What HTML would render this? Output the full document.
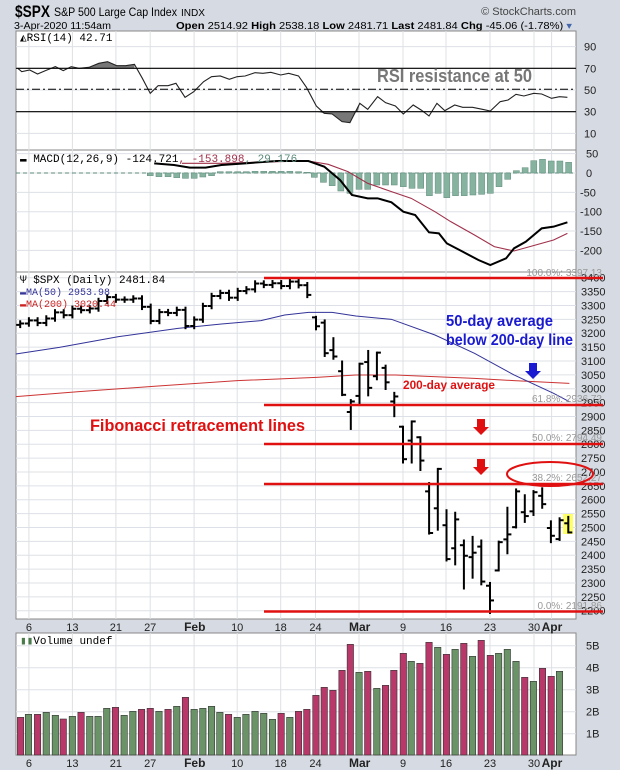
<!DOCTYPE html>
<html><head><meta charset="utf-8"><style>
body{margin:0;background:#d6dae2;}
svg{display:block;font-family:"Liberation Sans",sans-serif;}
</style></head><body>
<svg id="s" width="620" height="770" xmlns="http://www.w3.org/2000/svg">
<rect x="0" y="0" width="620" height="770" fill="#d6dae2"/>
<!-- header -->
<text x="15" y="17" font-size="17" font-weight="bold" fill="#000" textLength="35" lengthAdjust="spacingAndGlyphs">$SPX</text>
<text x="54" y="16" font-size="12" fill="#000" textLength="123" lengthAdjust="spacingAndGlyphs">S&amp;P 500 Large Cap Index</text>
<text x="181" y="16" font-size="10" fill="#000" textLength="24" lengthAdjust="spacingAndGlyphs">INDX</text>
<text x="576" y="15" font-size="11" fill="#444" text-anchor="end">© StockCharts.com</text>
<text x="14" y="29" font-size="10" fill="#000" textLength="97" lengthAdjust="spacingAndGlyphs">3-Apr-2020 11:54am</text>
<text x="176" y="29" font-size="10" fill="#000" textLength="396" lengthAdjust="spacingAndGlyphs"><tspan font-weight="bold">Open</tspan> 2514.92 <tspan font-weight="bold">High</tspan> 2538.18 <tspan font-weight="bold">Low</tspan> 2481.71 <tspan font-weight="bold">Last</tspan> 2481.84 <tspan font-weight="bold">Chg</tspan> -45.06 (-1.78%) <tspan fill="#4466aa">▾</tspan></text>
<!-- panels -->
<rect x="16" y="31" width="560" height="119" fill="#fff" stroke="#888"/>
<rect x="16" y="150" width="560" height="123" fill="#fff" stroke="#888"/>
<rect x="16" y="272" width="560" height="347" fill="#fff" stroke="#888"/>
<rect x="16" y="633" width="560" height="122" fill="#fff" stroke="#888"/>
<g id="grid"></g>
<g id="ticks" font-size="11" fill="#222"></g>

<!-- RSI -->
<g transform="scale(0.3954,0.3333)">
<polygon points="45,205 55,205 340,205 340,193 318,197 295,197 272,185 250,190 225,202 200,205" fill="#777"/>
<polygon points="800,335 820,340 840,342 865,365 885,368 910,310 905,335" fill="#777"/>
<polyline fill="none" stroke="#222" stroke-width="1.1" vector-effect="non-scaling-stroke" points="45,205 55,215 75,210 95,222 115,212 140,200 160,212 180,200 200,205 225,202 250,190 272,185 295,197 318,197 340,193 360,235 380,280 400,257 425,257 445,250 468,292 490,275 515,245 535,230 557,228 580,238 600,230 620,228 645,218 665,220 685,217 710,225 730,220 755,228 775,262 800,318 820,340 840,342 865,365 885,368 910,310 930,328 955,290 975,308 1000,318 1020,342 1045,315 1065,330 1085,348 1105,310 1125,332 1150,315 1170,322 1195,322 1220,328 1240,333 1265,305 1285,300 1305,283 1325,288 1350,280 1370,282 1395,295 1415,290 1435,292"/>
</g>
<line x1="16" x2="576" y1="68.3" y2="68.3" stroke="#000" stroke-width="1.2"/>
<line x1="16" x2="576" y1="111.7" y2="111.7" stroke="#000" stroke-width="1.2"/>
<line x1="16" x2="576" y1="89.3" y2="89.3" stroke="#000" stroke-width="1" stroke-dasharray="8,3,2,3"/>
<text x="377" y="82" font-size="18" font-weight="bold" fill="#777" textLength="155" lengthAdjust="spacingAndGlyphs">RSI resistance at 50</text>
<text x="20" y="41" font-size="11" fill="#000" font-family="Liberation Mono,monospace">◭RSI(14) 42.71</text>

<!-- MACD -->
<line x1="16" x2="576" y1="173" y2="173" stroke="#5a8a7a" stroke-dasharray="4,3"/>
<g id="hist"></g>
<g transform="translate(0,145) scale(0.3954,0.3333)">
<polyline fill="none" stroke="#a0304a" stroke-width="1.1" vector-effect="non-scaling-stroke" points="460,55 560,55 700,50 780,48 830,58 880,80 930,115 990,140 1040,160 1100,200 1140,230 1200,270 1250,305 1300,318 1340,305 1400,285 1435,265"/>
<polyline fill="none" stroke="#000" stroke-width="2" vector-effect="non-scaling-stroke" points="390,55 440,60 480,68 520,68 560,60 620,55 700,48 780,48 820,65 860,105 890,150 930,160 955,160 990,172 1020,200 1050,210 1085,262 1110,265 1130,295 1170,320 1210,345 1240,360 1280,340 1300,310 1330,290 1370,250 1400,245 1435,232"/>
</g>
<text x="20" y="162" font-size="11" font-family="Liberation Mono,monospace"><tspan fill="#000">▬ MACD(12,26,9) -124.721</tspan><tspan fill="#a0304a">, -153.898</tspan><tspan fill="#5a8a7a">, 29.176</tspan></text>

<!-- Price -->
<g transform="translate(0,260) scale(0.3954,0.3333)">
<polyline fill="none" stroke="#cc3333" stroke-width="1" vector-effect="non-scaling-stroke" points="40,410 200,395 400,378 600,362 800,352 900,345 1000,345 1200,355 1300,362 1440,370"/>
<polyline fill="none" stroke="#333399" stroke-width="1" vector-effect="non-scaling-stroke" points="40,282 150,262 300,230 450,205 560,192 660,182 720,165 780,157 840,157 900,168 990,178 1100,225 1200,280 1300,345 1400,400 1440,425"/>
</g>
<rect x="563" y="514" width="10" height="20" fill="#ffff66"/>
<g id="bars" stroke="#000" stroke-width="2"></g>
<g stroke="#e01010" stroke-width="2.5">
<line x1="264" x2="603" y1="278" y2="278"/>
<line x1="264" x2="603" y1="405" y2="405"/>
<line x1="264" x2="603" y1="444" y2="444"/>
<line x1="264" x2="603" y1="484" y2="484"/>
<line x1="264" x2="603" y1="611.5" y2="611.5"/>
</g>
<g font-size="10" fill="#999" text-anchor="end">
<text x="602" y="276">100.0%: 3397.13</text>
<text x="602" y="402">61.8%: 2936.72</text>
<text x="602" y="441">50.0%: 2794.49</text>
<text x="602" y="481">38.2%: 2652.27</text>
<text x="602" y="609">0.0%: 2191.86</text>
</g>
<ellipse cx="550" cy="474" rx="43" ry="12" fill="none" stroke="#e01010" stroke-width="2"/>
<text x="446" y="326" font-size="16" font-weight="bold" fill="#1a1ad0" textLength="107" lengthAdjust="spacingAndGlyphs">50-day average</text>
<text x="446" y="345" font-size="16" font-weight="bold" fill="#1a1ad0" textLength="127" lengthAdjust="spacingAndGlyphs">below 200-day line</text>
<text x="403" y="389" font-size="12" font-weight="bold" fill="#e01010" textLength="92" lengthAdjust="spacingAndGlyphs">200-day average</text>
<text x="90" y="431" font-size="17" font-weight="bold" fill="#e01010" textLength="215" lengthAdjust="spacingAndGlyphs">Fibonacci retracement lines</text>
<polygon points="529,363 537,363 537,371 541,371 533,379 525,371 529,371" fill="#1a1ad0"/>
<polygon points="477,419 485,419 485,427 489,427 481,435 473,427 477,427" fill="#e01010"/>
<polygon points="477,459 485,459 485,467 489,467 481,475 473,467 477,467" fill="#e01010"/>
<text x="20" y="283" font-size="11" fill="#000" font-family="Liberation Mono,monospace">Ψ $SPX (Daily) 2481.84</text>
<text x="20" y="295" font-size="10" fill="#333399" font-family="Liberation Mono,monospace">▬MA(50) 2953.98</text>
<text x="20" y="307" font-size="10" fill="#cc2222" font-family="Liberation Mono,monospace">▬MA(200) 3020.44</text>

<!-- Volume -->
<g id="vol"></g>
<text x="20" y="644" font-size="11" fill="#000" font-family="Liberation Mono,monospace"><tspan fill="#4a7a4a">▮▮</tspan>Volume undef</text>
</svg>
<script>
var NS="http://www.w3.org/2000/svg";
function el(p,t,a,txt){var e=document.createElementNS(NS,t);for(var k in a)e.setAttribute(k,a[k]);if(txt!=null)e.textContent=txt;document.getElementById(p).appendChild(e);return e;}
var vx=[28.9,72.4,115.9,150.2,194.1,237.2,280.7,315.5,359,403,446,490,534,551.6];
var lab=["6","13","21","27","Feb","10","18","24","Mar","9","16","23","30","Apr"];
var panels=[[31,150],[150,273],[272,619],[633,755]];
panels.forEach(function(p){vx.forEach(function(x){el("grid","line",{x1:x,x2:x,y1:p[0],y2:p[1],stroke:"#dde0e6"});});});
function hl(y,l,lx){el("grid","line",{x1:16,x2:576,y1:y,y2:y,stroke:"#dde0e6"});if(l!=null)el("ticks","text",{x:lx||584,y:y+4},l);}
[90,70,50,30,10].forEach(function(v){hl(68.3+(70-v)*1.085,""+v);});
[50,0,-50,-100,-150,-200].forEach(function(v){hl(173-v*0.387,""+v,v<0?580:586);});
for(var p=3400;p>=2200;p-=50){hl(277.7+(3400-p)*0.2775,""+p,581);}
[5,4,3,2,1].forEach(function(v){hl(755-v*22+0.7,v+"B",586);});
vx.forEach(function(x,i){var b=(lab[i]=="Feb"||lab[i]=="Mar"||lab[i]=="Apr");
 el("ticks","text",{x:x,y:631,"text-anchor":b?"start":"middle","font-weight":b?"bold":"normal","font-size":b?12:11,dx:b?-10:0},lab[i]);
 el("ticks","text",{x:x,y:767,"text-anchor":b?"start":"middle","font-weight":b?"bold":"normal","font-size":b?12:11,dx:b?-10:0},lab[i]);});
var hb={380:92,402:95,425:95,447:98,469:100,491:100,513:96,535:92,557:80,579:80,601:80,623:80,645:79,667:79,689:79,711:79,733:79,755:80,777:82,795:97,818:112,840:122,862:138,885:145,908:133,930:133,953:120,975:120,997:120,1020:125,1042:130,1064:130,1086:152,1108:145,1130:158,1152:152,1174:152,1196:150,1218:148,1240:145,1262:125,1284:103,1306:77,1328:68,1350:47,1372:43,1394:48,1416:48,1438:52};
for(var k in hb){var x=k/2.529,y=145+hb[k]/3,y0=173;el("hist","rect",{x:x-3,y:Math.min(y,y0),width:6,height:Math.abs(y-y0)+0.01,fill:"#86b3a0",stroke:"#5f8a7a","stroke-width":0.5});}
var cl=[3235,3246,3237,3253,3275,3265,3288,3283,3289,3316,3330,3321,3321,3325,3295,3244,3276,3273,3284,3226,3249,3298,3334,3345,3328,3352,3358,3379,3374,3380,3370,3386,3373,3338];
var D=[];var prev=3230;cl.forEach(function(c){var o=prev;D.push([o,Math.max(o,c)+8,Math.min(o,c)-8,c]);prev=c;});
var ex=[[3257,3259,3214,3225],[3238,3246,3118,3128],[3139,3182,3108,3116],[3063,3098,2977,2978],[2916,2959,2855,2954],[2974,3090,2946,3090],[3096,3136,2976,3003],[3045,3130,3034,3130],[3075,3083,2999,3023],[2954,2985,2901,2972],[2863,2863,2734,2746],[2813,2882,2734,2882],[2825,2825,2707,2741],[2630,2660,2478,2480],[2569,2711,2492,2711],[2508,2562,2381,2386],[2425,2553,2367,2529],[2436,2453,2280,2398],[2393,2466,2319,2409],[2431,2453,2295,2305],[2290,2300,2192,2237],[2345,2449,2345,2447],[2457,2571,2407,2475],[2501,2637,2500,2630],[2555,2616,2520,2541],[2558,2631,2545,2627],[2614,2641,2571,2584],[2498,2522,2447,2470],[2458,2533,2455,2526],[2515,2538,2482,2482]];
D=D.concat(ex);
function py(p){return 277.7+(3400-p)*0.2775;}
D.forEach(function(d,i){var x=20.2+8.7*i;
 el("bars","line",{x1:x,x2:x,y1:py(d[1])-1,y2:py(d[2])+1});
 el("bars","line",{x1:x-4,x2:x,y1:py(d[0]),y2:py(d[0])});
 el("bars","line",{x1:x,x2:x+4,y1:py(d[3]),y2:py(d[3])});});
var V=[[52,'r',772],[72,'g',763],[95,'r',763],[117,'g',757],[140,'g',766],[160,'r',777],[183,'g',769],[205,'r',757],[227,'g',769],[248,'g',769],[270,'g',745],[292,'r',742],[314,'g',766],[336,'g',754],[358,'r',748],[380,'r',745],[402,'g',754],[425,'r',748],[447,'g',739],[469,'r',712],[491,'g',748],[513,'g',745],[535,'g',739],[556,'g',757],[578,'r',763],[600,'g',772],[622,'g',763],[645,'g',754],[667,'g',760],[689,'g',778],[711,'r',760],[733,'g',772],[755,'r',754],[776,'r',748],[799,'r',706],[820,'r',682],[842,'r',691],[865,'r',631],[886,'r',553],[908,'g',637],[930,'r',634],[953,'g',685],[975,'r',676],[996,'r',631],[1020,'r',580],[1040,'g',604],[1062,'r',610],[1085,'r',547],[1107,'g',562],[1129,'r',583],[1151,'g',568],[1173,'r',550],[1195,'g',589],[1217,'r',541],[1240,'r',586],[1261,'g',580],[1283,'g',568],[1305,'g',604],[1327,'r',652],[1349,'g',664],[1372,'r',625],[1394,'r',649],[1415,'g',634]];
V.forEach(function(v){var x=v[0]/2.529,y=460+v[2]/3;el("vol","rect",{x:x-3.2,y:y,width:6.4,height:755-y,fill:v[1]=='r'?"#b8386a":"#6a9468",stroke:"#333","stroke-width":0.6});});
</script>
</body></html>
